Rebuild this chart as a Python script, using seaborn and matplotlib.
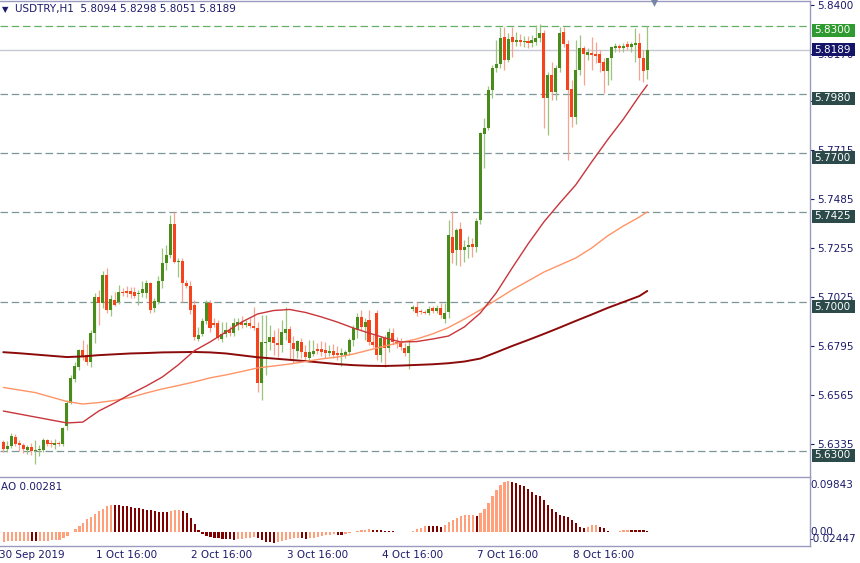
import numpy as np
import pandas as pd
import matplotlib
matplotlib.use("Agg")
import matplotlib.pyplot as plt
import matplotlib.transforms as mtransforms
from matplotlib.patches import Rectangle
import seaborn as sns

# USDTRY H1 candles, 30 Sep 17:00 .. 9 Oct 11:00 (bar index 0..162)
opens = [5.6342, 5.6309, 5.6324, 5.6366, 5.6338, 5.6328, 5.6305, 5.6319, 5.6300, 5.6305,
         5.6305, 5.6352, 5.6338, 5.6328, 5.6338, 5.6333, 5.6418, 5.6526, 5.6639, 5.6695,
         5.6775, 5.6752, 5.6719, 5.6855, 5.7025, 5.6996, 5.7128, 5.6964, 5.7011, 5.7001,
         5.7048, 5.7053, 5.7053, 5.7048, 5.7039, 5.7044, 5.7044, 5.7091, 5.6973, 5.7001,
         5.7100, 5.7185, 5.7222, 5.7368, 5.7189, 5.7194, 5.7091, 5.7076, 5.6987, 5.6827,
         5.6851, 5.6912, 5.6996, 5.6902, 5.6902, 5.6827, 5.6851, 5.6869, 5.6855, 5.6893,
         5.6907, 5.6893, 5.6902, 5.6888, 5.6879, 5.6620, 5.6808, 5.6813, 5.6836, 5.6808,
         5.6799, 5.6855, 5.6874, 5.6808, 5.6771, 5.6813, 5.6766, 5.6738, 5.6756, 5.6780,
         5.6780, 5.6775, 5.6761, 5.6771, 5.6761, 5.6752, 5.6752, 5.6766, 5.6822, 5.6869,
         5.6931, 5.6884, 5.6916, 5.6813, 5.6949, 5.6752, 5.6832, 5.6785, 5.6855, 5.6813,
         5.6808, 5.6785, 5.6761, 5.6968, 5.6978, 5.6959, 5.6954, 5.6949, 5.6973, 5.6959,
         5.6973, 5.6921, 5.6954, 5.7307, 5.7246, 5.7345, 5.7246, 5.7260, 5.7274, 5.7260,
         5.7387, 5.7792, 5.7820, 5.7999, 5.8102, 5.8121, 5.8248, 5.8140, 5.8248, 5.8225,
         5.8234, 5.8225, 5.8229, 5.8220, 5.8225, 5.8244, 5.8267, 5.7961, 5.8069, 5.7989,
         5.8102, 5.8272, 5.8215, 5.8004, 5.7872, 5.8093, 5.8196, 5.8164, 5.8173, 5.8168,
         5.8168, 5.8131, 5.8088, 5.8149, 5.8196, 5.8206, 5.8196, 5.8215, 5.8201, 5.8211,
         5.8220, 5.8149, 5.8094]
highs = [5.6352, 5.6347, 5.6385, 5.6380, 5.6352, 5.6338, 5.6328, 5.6338, 5.6352, 5.6328,
         5.6361, 5.6356, 5.6352, 5.6356, 5.6347, 5.6413, 5.6540, 5.6658, 5.6719, 5.6780,
         5.6822, 5.6804, 5.6869, 5.7044, 5.7058, 5.7147, 5.7161, 5.7034, 5.7048, 5.7081,
         5.7067, 5.7076, 5.7072, 5.7072, 5.7058, 5.7100, 5.7105, 5.7095, 5.7020, 5.7124,
         5.7255, 5.7269, 5.7411, 5.7425, 5.7208, 5.7208, 5.7105, 5.7100, 5.7011, 5.6884,
         5.6926, 5.7011, 5.7011, 5.6926, 5.6916, 5.6907, 5.6907, 5.6888, 5.6926, 5.6926,
         5.6935, 5.6916, 5.6926, 5.6978, 5.6907, 5.6940, 5.6940, 5.6893, 5.6869, 5.6879,
         5.6916, 5.6978, 5.6888, 5.6841, 5.6822, 5.6832, 5.6799, 5.6822, 5.6822, 5.6808,
         5.6818, 5.6813, 5.6799, 5.6804, 5.6794, 5.6785, 5.6775, 5.6832, 5.6893, 5.6949,
         5.6964, 5.6926, 5.6964, 5.6846, 5.6964, 5.6841, 5.6846, 5.6879, 5.6879, 5.6836,
         5.6832, 5.6808, 5.6822, 5.6987, 5.7001, 5.6968, 5.6964, 5.6982, 5.6982, 5.6987,
         5.6996, 5.6996, 5.7387, 5.7429, 5.7349, 5.7378, 5.7293, 5.7312, 5.7302, 5.7396,
         5.7801, 5.7867, 5.8018, 5.8116, 5.8234, 5.8295, 5.8295, 5.8267, 5.8295, 5.8272,
         5.8262, 5.8253, 5.8253, 5.8258, 5.8305, 5.8309, 5.8281, 5.8084, 5.8131, 5.8116,
         5.8295, 5.8295, 5.8234, 5.8046, 5.8234, 5.8258, 5.8206, 5.8196, 5.8248, 5.8225,
         5.8187, 5.8149, 5.8140, 5.8206, 5.8220, 5.8215, 5.8220, 5.8229, 5.8225, 5.8291,
         5.8267, 5.8187, 5.8298]
lows = [5.6295, 5.6295, 5.6314, 5.6324, 5.6300, 5.6291, 5.6286, 5.6281, 5.6239, 5.6276,
        5.6295, 5.6324, 5.6319, 5.6309, 5.6324, 5.6324, 5.6399, 5.6521, 5.6625, 5.6681,
        5.6728, 5.6705, 5.6695, 5.6808, 5.6893, 5.6973, 5.6949, 5.6935, 5.6982, 5.6992,
        5.7029, 5.7025, 5.7020, 5.7020, 5.6987, 5.7025, 5.7020, 5.6949, 5.6954, 5.6992,
        5.7067, 5.7152, 5.7208, 5.7185, 5.7119, 5.7001, 5.7067, 5.6945, 5.6822, 5.6818,
        5.6841, 5.6898, 5.6860, 5.6884, 5.6822, 5.6813, 5.6836, 5.6841, 5.6841, 5.6869,
        5.6879, 5.6884, 5.6879, 5.6869, 5.6578, 5.6540, 5.6658, 5.6775, 5.6752, 5.6742,
        5.6766, 5.6822, 5.6728, 5.6714, 5.6738, 5.6738, 5.6728, 5.6719, 5.6747, 5.6756,
        5.6747, 5.6738, 5.6747, 5.6738, 5.6728, 5.6700, 5.6738, 5.6752, 5.6794, 5.6832,
        5.6869, 5.6822, 5.6799, 5.6789, 5.6728, 5.6719, 5.6695, 5.6766, 5.6799, 5.6785,
        5.6775, 5.6747, 5.6686, 5.6959, 5.6935, 5.6945, 5.6945, 5.6940, 5.6949, 5.6949,
        5.6926, 5.6902, 5.6926, 5.7185, 5.7175, 5.7171, 5.7189, 5.7208, 5.7213, 5.7236,
        5.7368, 5.7632, 5.7811, 5.7961, 5.8084, 5.8102, 5.8093, 5.8131, 5.8154, 5.8206,
        5.8206, 5.8201, 5.8196, 5.8201, 5.8211, 5.8225, 5.7820, 5.7787, 5.7952, 5.7952,
        5.8084, 5.8201, 5.7669, 5.7825, 5.7839, 5.8069, 5.8022, 5.8140, 5.8093, 5.8126,
        5.8084, 5.7985, 5.8022, 5.8046, 5.8178, 5.8178, 5.8178, 5.8187, 5.8178, 5.8131,
        5.8046, 5.8036, 5.8051]
closes = [5.6309, 5.6324, 5.6371, 5.6333, 5.6328, 5.6309, 5.6319, 5.6300, 5.6305, 5.6309,
          5.6352, 5.6333, 5.6333, 5.6338, 5.6333, 5.6408, 5.6526, 5.6644, 5.6700, 5.6775,
          5.6742, 5.6719, 5.6855, 5.7025, 5.6996, 5.7128, 5.6964, 5.7015, 5.6987, 5.7048,
          5.7044, 5.7044, 5.7039, 5.7029, 5.7044, 5.7062, 5.7091, 5.6964, 5.7006, 5.7100,
          5.7185, 5.7222, 5.7368, 5.7189, 5.7194, 5.7091, 5.7076, 5.6964, 5.6836, 5.6846,
          5.6912, 5.6996, 5.6879, 5.6893, 5.6832, 5.6851, 5.6869, 5.6855, 5.6902, 5.6907,
          5.6893, 5.6902, 5.6888, 5.6879, 5.6620, 5.6813, 5.6813, 5.6836, 5.6808, 5.6799,
          5.6860, 5.6874, 5.6808, 5.6780, 5.6818, 5.6766, 5.6742, 5.6766, 5.6771, 5.6771,
          5.6766, 5.6761, 5.6771, 5.6752, 5.6752, 5.6761, 5.6766, 5.6822, 5.6879, 5.6931,
          5.6884, 5.6907, 5.6813, 5.6799, 5.6752, 5.6832, 5.6785, 5.6860, 5.6813, 5.6804,
          5.6789, 5.6761, 5.6794, 5.6978, 5.6949, 5.6954, 5.6949, 5.6968, 5.6959, 5.6973,
          5.6940, 5.6949, 5.7316, 5.7232, 5.7340, 5.7246, 5.7260, 5.7269, 5.7260, 5.7382,
          5.7796, 5.7820, 5.7999, 5.8102, 5.8121, 5.8244, 5.8140, 5.8239, 5.8225, 5.8234,
          5.8225, 5.8229, 5.8220, 5.8234, 5.8244, 5.8267, 5.7961, 5.8069, 5.7989, 5.8102,
          5.8267, 5.8215, 5.7999, 5.7872, 5.8093, 5.8196, 5.8168, 5.8178, 5.8164, 5.8159,
          5.8126, 5.8088, 5.8149, 5.8201, 5.8206, 5.8196, 5.8206, 5.8201, 5.8215, 5.8220,
          5.8149, 5.8088, 5.8189]

# moving averages, read every 4th bar
ma_bars = [0, 4, 8, 12, 16, 20, 24, 28, 32, 36, 40, 44, 48, 52, 56, 60, 64, 68, 72, 76,
           80, 84, 88, 92, 96, 100, 104, 108, 112, 116, 120, 124, 128, 132, 136, 140, 144,
           148, 152, 156, 160, 162]
ma_fast = [5.6488, 5.6474, 5.6460, 5.6446, 5.6432, 5.6436, 5.6488, 5.6526, 5.6568, 5.6606,
           5.6648, 5.6705, 5.6771, 5.6813, 5.6860, 5.6907, 5.6945, 5.6961, 5.6966, 5.6952,
           5.6931, 5.6907, 5.6879, 5.6855, 5.6832, 5.6813, 5.6815, 5.6827, 5.6841, 5.6884,
           5.6949, 5.7044, 5.7161, 5.7274, 5.7378, 5.7467, 5.7552, 5.7660, 5.7764, 5.7862,
           5.7971, 5.8022]
ma_mid = [5.6599, 5.6587, 5.6575, 5.6554, 5.6533, 5.6521, 5.6528, 5.6538, 5.6552, 5.6573,
          5.6592, 5.6608, 5.6625, 5.6644, 5.6658, 5.6674, 5.6691, 5.6700, 5.6709, 5.6721,
          5.6733, 5.6742, 5.6756, 5.6775, 5.6794, 5.6811, 5.6827, 5.6851, 5.6881, 5.6921,
          5.6964, 5.7011, 5.7058, 5.7100, 5.7142, 5.7175, 5.7208, 5.7255, 5.7312, 5.7359,
          5.7401, 5.7425]
ma_slow = [5.6765, 5.6760, 5.6754, 5.6748, 5.6742, 5.6745, 5.6751, 5.6755, 5.6759, 5.6761,
           5.6764, 5.6765, 5.6766, 5.6764, 5.6759, 5.6750, 5.6741, 5.6735, 5.6729, 5.6723,
           5.6716, 5.6709, 5.6704, 5.6701, 5.6700, 5.6702, 5.6705, 5.6708, 5.6713, 5.6721,
           5.6735, 5.6764, 5.6794, 5.6822, 5.6851, 5.6881, 5.6912, 5.6942, 5.6973, 5.7001,
           5.7029, 5.7053]

# Awesome Oscillator
ao = [-0.0165, -0.0162, -0.0160, -0.0158, -0.0156, -0.0154, -0.0152, -0.0158, -0.0162, -0.0160,
      -0.0155, -0.0150, -0.0146, -0.0142, -0.0135, -0.0110, -0.0060, 0.0010, 0.0060, 0.0120,
      0.0170, 0.0230, 0.0270, 0.0320, 0.0370, 0.0420, 0.0460, 0.0490, 0.0488, 0.0480,
      0.0470, 0.0460, 0.0450, 0.0440, 0.0430, 0.0420, 0.0405, 0.0390, 0.0375, 0.0365,
      0.0360, 0.0355, 0.0375, 0.0395, 0.0400, 0.0385, 0.0350, 0.0250, 0.0150, 0.0040,
      -0.0030, -0.0070, -0.0090, -0.0105, -0.0110, -0.0115, -0.0120, -0.0125, -0.0130, -0.0125,
      -0.0115, -0.0105, -0.0095, -0.0090, -0.0110, -0.0140, -0.0165, -0.0180, -0.0190, -0.0180,
      -0.0160, -0.0140, -0.0120, -0.0105, -0.0095, -0.0105, -0.0120, -0.0110, -0.0095, -0.0080,
      -0.0065, -0.0050, -0.0040, -0.0030, -0.0045, -0.0050, -0.0035, -0.0015, 0.0005, 0.0020,
      0.0035, 0.0045, 0.0050, 0.0045, 0.0040, 0.0035, 0.0030, 0.0022, 0.0016, 0.0012,
      0.0008, 0.0005, 0.0002, 0.0020, 0.0050, 0.0080, 0.0110, 0.0108, 0.0106, 0.0104,
      0.0102, 0.0130, 0.0175, 0.0215, 0.0260, 0.0290, 0.0305, 0.0310, 0.0312, 0.0295,
      0.0345, 0.0411, 0.0518, 0.0649, 0.0757, 0.0846, 0.0888, 0.0906, 0.0894, 0.0876,
      0.0846, 0.0816, 0.0768, 0.0709, 0.0668, 0.0638, 0.0566, 0.0489, 0.0411, 0.0352,
      0.0310, 0.0292, 0.0280, 0.0220, 0.0173, 0.0102, 0.0072, 0.0102, 0.0131, 0.0135,
      0.0102, 0.0072, 0.0030, 0.0006, 0.0012, 0.0024, 0.0036, 0.0042, 0.0040, 0.0038,
      0.0036, 0.0032, 0.00281]

# horizontal levels
levels = [5.7980, 5.7700, 5.7425, 5.7000, 5.6300]
top_level = 5.8300
last_price = 5.8189
price_ticks = [5.8400, 5.8170, 5.7945, 5.7715, 5.7485, 5.7255, 5.7025, 5.6795, 5.6565, 5.6335]

time_ticks = [-1, 23, 47, 71, 95, 119, 143]
time_labels = ["30 Sep 2019", "1 Oct 16:00", "2 Oct 16:00", "3 Oct 16:00",
               "4 Oct 16:00", "7 Oct 16:00", "8 Oct 16:00"]

sns.set_style("white")
plt.rcParams["font.family"] = ["DejaVu Sans"]

NAVY = "#1b1b6b"
FRAME = "#9a9ac0"
UP, DOWN = "#4a8c1c", "#f5431c"
UP_WICK, DOWN_WICK = "#9cc47f", "#f6a390"

df = pd.DataFrame({"o": opens, "h": highs, "l": lows, "c": closes})
df["bar"] = np.arange(len(df))
up = df["c"] >= df["o"]

fig = plt.figure(figsize=(8.6, 5.63), dpi=100)
ax = fig.add_axes([0, 86 / 563, 810 / 860, 476 / 563])
ax_ao = fig.add_axes([0, 17 / 563, 810 / 860, 69 / 563])

xlim = (-0.83, 202.94)

# --- candles ---
ax.vlines(df["bar"], df["l"], df["h"], colors=np.where(up, UP_WICK, DOWN_WICK),
          linewidth=0.9, zorder=2)
body = (df["c"] - df["o"]).abs().clip(lower=0.0005)
ax.bar(df["bar"], body, bottom=df[["o", "c"]].min(axis=1), width=0.76,
       color=np.where(up, UP, DOWN), linewidth=0, zorder=3)

# --- moving averages ---
sns.lineplot(x=ma_bars, y=ma_slow, ax=ax, color="#8b0a0a", linewidth=1.4, zorder=4)
sns.lineplot(x=ma_bars, y=ma_mid, ax=ax, color="#ff9466", linewidth=1.0, zorder=4)
sns.lineplot(x=ma_bars, y=ma_fast, ax=ax, color="#c8353b", linewidth=1.0, zorder=4)

# --- levels ---
for lv in levels:
    ax.axhline(lv, color="#7d9696", linewidth=0.9, dashes=(6, 3), zorder=1)
ax.axhline(top_level, color="#64b064", linewidth=0.9, dashes=(6, 3), zorder=1)
ax.axhline(last_price, color="#c6c8d2", linewidth=1.0, zorder=1)

ax.set_xlim(*xlim)
ax.set_ylim(5.61776, 5.84176)
ax.set_xticks([])
ax.yaxis.tick_right()
ax.set_yticks(price_ticks)
ax.set_yticklabels([f"{t:.4f}" for t in price_ticks])
ax.tick_params(axis="y", direction="out", length=3, width=0.8, color=NAVY,
               labelcolor=NAVY, labelsize=7.5, pad=2)
for side, sp in ax.spines.items():
    sp.set_visible(side in ("top", "right"))
    sp.set_color(FRAME)
    sp.set_linewidth(1.0)

# price boxes on the right scale
bt = mtransforms.blended_transform_factory(ax.transAxes, ax.transData)
px = 1 / 2125
boxes = [(top_level, "#2f9a2f", 2, -11)] + [(lv, "#2c4a4a", 2, -11) for lv in levels] \
        + [(last_price, "#141468", 6.5, -6.5)]
for price, col, up_px, dn_px in boxes:
    ax.add_patch(Rectangle((1.0025, price + dn_px * px), 0.0535, (up_px - dn_px) * px,
                           transform=bt, facecolor=col, edgecolor="none",
                           clip_on=False, zorder=10))
    ax.text(1.0055, price + (up_px + dn_px) / 2 * px, f"{price:.4f}", transform=bt,
            color="white", fontsize=7.5, va="center", ha="left", clip_on=False, zorder=11)

ax.text(0.003, 0.983, "\u25bc", transform=ax.transAxes, color=NAVY, fontsize=6,
        va="center", ha="left")
ax.text(0.018, 0.983, "USDTRY,H1  5.8094 5.8298 5.8051 5.8189", transform=ax.transAxes,
        color=NAVY, fontsize=7.5, va="center", ha="left")
ax.scatter([163.6], [1.0], marker="v", s=60, color="#7585a5",
           transform=mtransforms.blended_transform_factory(ax.transData, ax.transAxes),
           clip_on=False, zorder=12, linewidths=0)

# --- AO panel ---
ao_s = pd.Series(ao)
rising = ao_s.diff().fillna(1) > 0
ax_ao.bar(np.arange(len(ao)), ao, width=0.55, color=np.where(rising, "#ffa07a", "#800000"),
          linewidth=0)
ax_ao.set_xlim(*xlim)
ax_ao.set_ylim(-0.02447, 0.09843)
ax_ao.set_yticks([])
ax_ao.set_xticks(time_ticks)
ax_ao.set_xticklabels([])
ax_ao.tick_params(axis="x", direction="out", length=3, width=0.8, color=NAVY)
for side, sp in ax_ao.spines.items():
    sp.set_visible(side in ("top", "right", "bottom"))
    sp.set_color(FRAME)
    sp.set_linewidth(1.0)

xt = mtransforms.blended_transform_factory(ax_ao.transData, ax_ao.transAxes)
for t, lab in zip(time_ticks, time_labels):
    ax_ao.text(t - 0.3 if t < 0 else t + 0.15, -0.13, lab, transform=xt, color=NAVY,
               fontsize=7.5, ha="left", va="center", clip_on=False)

ax_ao.text(0.001, 0.86, "AO 0.00281", transform=ax_ao.transAxes, color=NAVY, fontsize=7.5,
           ha="left", va="center")
at = mtransforms.blended_transform_factory(ax_ao.transAxes, ax_ao.transData)
ax_ao.text(1.001, 0.0834, "0.09843", transform=at, color=NAVY, fontsize=7.5,
           ha="left", va="center", clip_on=False)
ax_ao.text(1.001, 0.0, "0.00", transform=at, color=NAVY, fontsize=7.5,
           ha="left", va="center", clip_on=False)
ax_ao.text(1.0, -0.012, "-0.02447", transform=at, color=NAVY, fontsize=7.5,
           ha="left", va="center", clip_on=False)

fig.savefig("out.png", dpi=100)
